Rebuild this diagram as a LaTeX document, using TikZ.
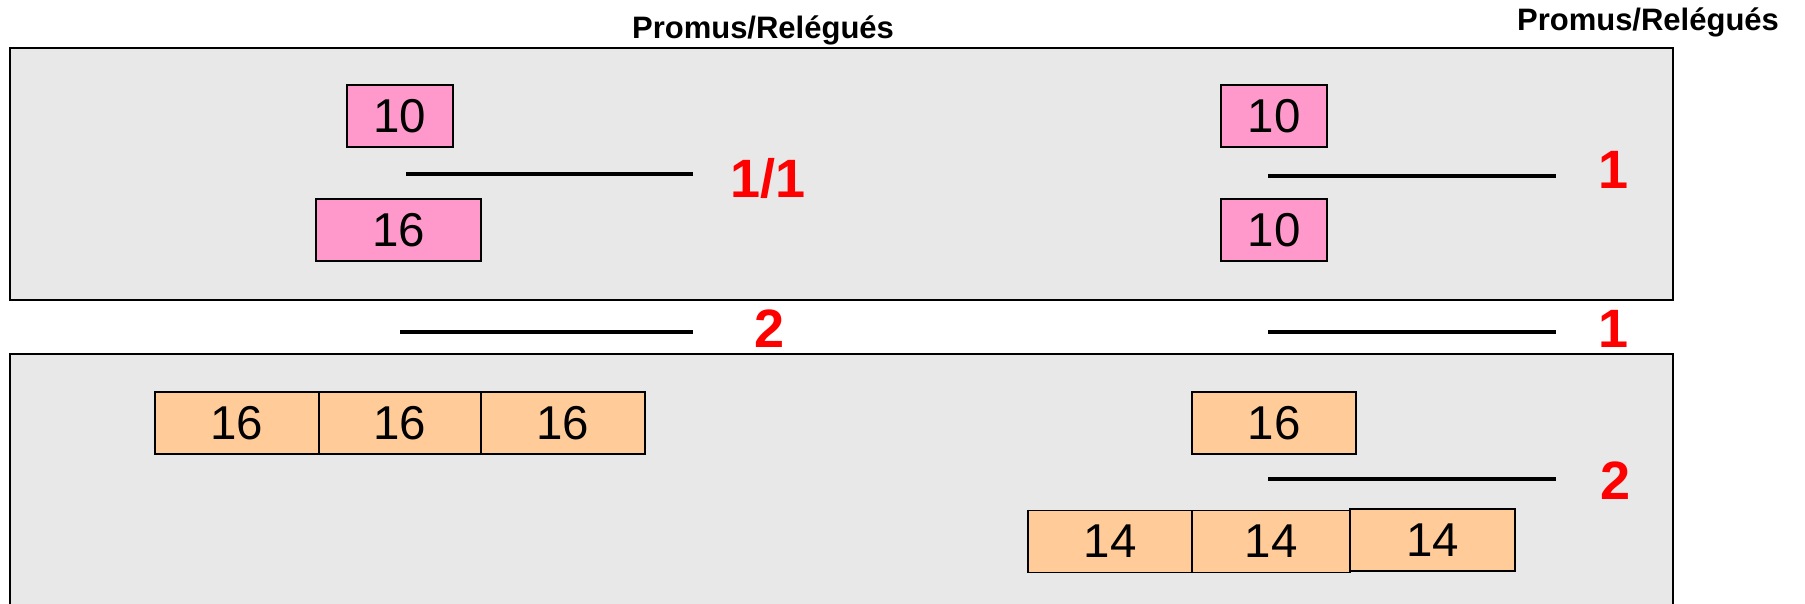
\documentclass[tikz,border=0pt]{standalone}
\usepackage{fontspec}
\setmainfont{Liberation Sans}
\definecolor{panelgray}{RGB}{232,232,232}
\definecolor{pinkbox}{RGB}{255,153,204}
\definecolor{orangebox}{RGB}{255,204,153}
\definecolor{redlabel}{RGB}{255,0,0}
\tikzset{
  panel/.style={draw=black, line width=1.5pt, fill=panelgray},
  numbox/.style={draw=black, line width=1.6pt, inner sep=0pt, minimum height=62pt,
    font=\fontsize{47.5}{50}\selectfont},
  pinkbx/.style={numbox, fill=pinkbox},
  orangebx/.style={numbox, fill=orangebox},
  sepline/.style={line width=4pt, black},
  redlbl/.style={text=redlabel, anchor=base, inner sep=0pt, font=\fontsize{54}{58}\selectfont\bfseries},
  headlbl/.style={anchor=base, inner sep=0pt, font=\fontsize{31}{34}\selectfont\bfseries}
}
\begin{document}
\begin{tikzpicture}[x=1pt,y=-1pt]
\useasboundingbox (0,0) rectangle (1805,603);
% panels
\draw[panel] (10,48) rectangle (1673,300);
\draw[panel] (10,354) rectangle (1673,606);
% headers
\node[headlbl] (h1) at (763,38) {Promus/Relégués};
\node[headlbl] (h2) at (1648,30) {Promus/Relégués};
% top panel, left
\node[pinkbx, minimum width=106pt] (p1) at (400,116) {10};
\node[pinkbx, minimum width=165pt] (p2) at (398.5,230) {16};
\coordinate (l1a) at (406,174);
\coordinate (l1b) at (693,174);
\draw[sepline] (l1a) -- (l1b);
\node[redlbl] (r1) at (768,197) {1/1};
% top panel, right
\node[pinkbx, minimum width=106pt] (p3) at (1274,116) {10};
\node[pinkbx, minimum width=106pt] (p4) at (1274,230) {10};
\coordinate (l2a) at (1268,176);
\coordinate (l2b) at (1556,176);
\draw[sepline] (l2a) -- (l2b);
\node[redlbl] (r2) at (1613,188) {1};
% between panels
\coordinate (l3a) at (400,332);
\coordinate (l3b) at (693,332);
\draw[sepline] (l3a) -- (l3b);
\node[redlbl] (r3) at (770,347) {2};
\coordinate (l4a) at (1268,332);
\coordinate (l4b) at (1556,332);
\draw[sepline] (l4a) -- (l4b);
\node[redlbl] (r4) at (1613,347) {1};
% bottom panel, left
\node[orangebx, minimum width=164pt] (o1) at (237,423) {16};
\node[orangebx, minimum width=162pt] (o2) at (400,423) {16};
\node[orangebx, minimum width=164pt] (o3) at (563,423) {16};
% bottom panel, right
\node[orangebx, minimum width=164pt] (o4) at (1274,423) {16};
\coordinate (l5a) at (1268,479);
\coordinate (l5b) at (1556,479);
\draw[sepline] (l5a) -- (l5b);
\node[redlbl] (r5) at (1615,499) {2};
\node[orangebx, minimum width=164pt] (f1) at (1110,541.5) {14};
\node[orangebx, minimum width=158pt] (f2) at (1271,541.5) {14};
\node[orangebx, minimum width=165pt] (f3) at (1432.5,540) {14};
\end{tikzpicture}
\end{document}
